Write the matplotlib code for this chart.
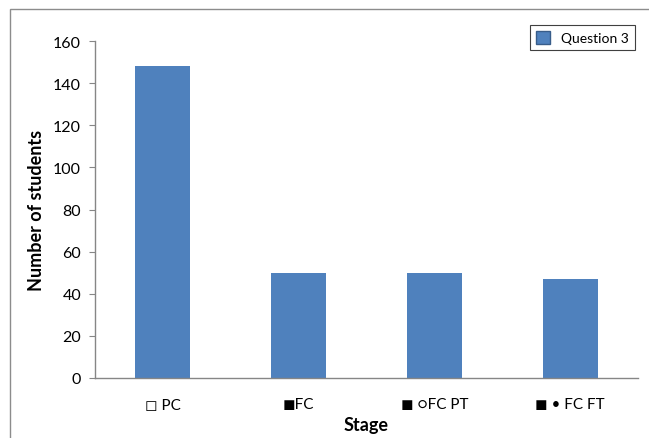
import matplotlib.pyplot as plt
from matplotlib.patches import Rectangle

# Number of students at each stage
stages = ['\u25fb PC', '\u25fcFC', '\u25fc \u25cbFC PT', '\u25fc \u2022 FC FT']
question3 = [148, 50, 50, 47]

BAR_BLUE = '#4F81BD'
AXIS_GREY = '#868686'
FONT = ['Lato', 'DejaVu Sans']

plt.rcParams['font.family'] = FONT

fig = plt.figure(figsize=(6.49, 4.39), dpi=100)
ax = fig.add_axes([95 / 649, 1 - 379 / 439, 543 / 649, 337 / 439])

x = range(len(stages))
ax.bar(x, question3, width=0.405, color=BAR_BLUE, label='Question 3', zorder=2)

ax.set_xlim(-0.5, len(stages) - 0.5)
ax.set_ylim(0, 160)
ax.set_yticks(range(0, 161, 20))
ax.set_xticks(list(x))
ax.set_xticklabels(stages, fontsize=11)
ax.tick_params(axis='x', length=0, pad=14)
ax.tick_params(axis='y', length=4, color=AXIS_GREY, labelsize=11.5, pad=6)

for side in ['top', 'right']:
    ax.spines[side].set_visible(False)
for side in ['left', 'bottom']:
    ax.spines[side].set_color(AXIS_GREY)
    ax.spines[side].set_linewidth(1)

ax.set_xlabel('Stage', fontsize=13, fontweight='bold', labelpad=3)
ax.set_ylabel('Number of students', fontsize=13, fontweight='bold', labelpad=6)

leg = ax.legend(loc='upper right', bbox_to_anchor=(642 / 649, 1 - 19 / 439),
                bbox_transform=fig.transFigure, fancybox=False, framealpha=1,
                fontsize=10, handlelength=1.0, handleheight=1.0,
                borderpad=0.45, handletextpad=0.8)
leg.get_frame().set_edgecolor('#404040')
leg.get_frame().set_linewidth(0.8)
leg.legend_handles[0].set_edgecolor('#385D8A')

# outer chart frame, cut off at the right and bottom edges
fig.patches.append(Rectangle((10 / 649, -0.05), 1.0, 1 - 10 / 439 + 0.05,
                             transform=fig.transFigure, fill=False,
                             edgecolor='#8C8C8C', linewidth=1))

fig.savefig('out.png', dpi=100)
